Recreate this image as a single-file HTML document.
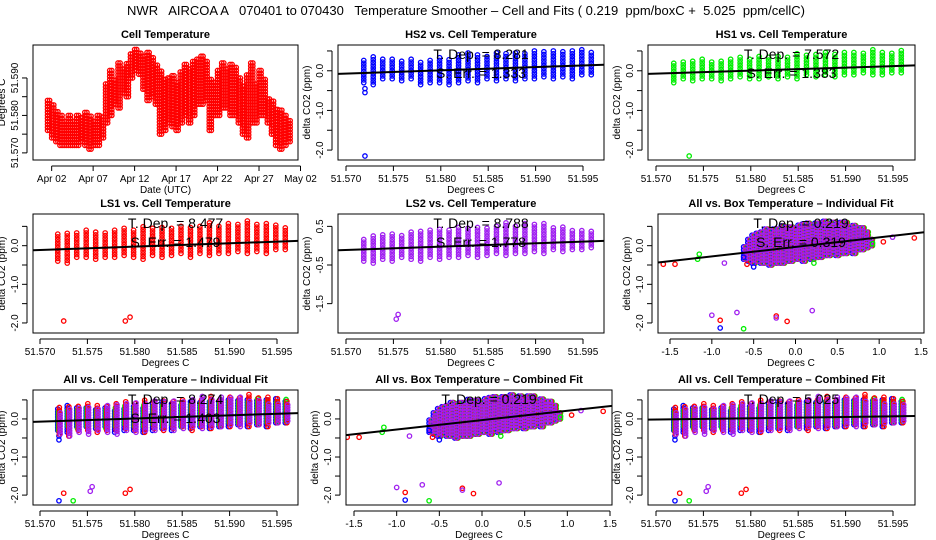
<!DOCTYPE html>
<html><head><meta charset="utf-8"><style>
html,body{margin:0;padding:0;background:#fff;}
svg{display:block;font-family:"Liberation Sans",sans-serif;}
</style></head><body>
<svg id="c" width="936" height="540" viewBox="0 0 936 540">
<text x="466" y="15" text-anchor="middle" font-size="13" xml:space="preserve">NWR   AIRCOA A   070401 to 070430   Temperature Smoother – Cell and Fits ( 0.219  ppm/boxC +  5.025  ppm/cellC)</text>
</svg>
<script>
// ---- data ----
const cellDays = [0.5,1,1.5,2,2.5,3,3.5,4,4.5,5,5.5,6,6.5,7,7.5,8,8.5,9,9.5,10,10.5,11,11.5,12,12.5,13,13.5,14,14.5,15,15.5,16,16.5,17,17.5,18,18.5,19,19.5,20,20.5,21,21.5,22,22.5,23,23.5,24,24.5,25,25.5,26,26.5,27,27.5,28,28.5,29,29.5];
const cellLo = [51.576,51.574,51.573,51.572,51.572,51.572,51.572,51.572,51.573,51.572,51.571,51.572,51.572,51.574,51.578,51.580,51.583,51.582,51.586,51.585,51.590,51.592,51.591,51.587,51.584,51.585,51.583,51.575,51.576,51.578,51.577,51.576,51.578,51.580,51.578,51.580,51.583,51.583,51.584,51.576,51.580,51.580,51.582,51.582,51.580,51.580,51.578,51.575,51.574,51.578,51.578,51.580,51.580,51.578,51.575,51.572,51.571,51.572,51.573];
const cellHi = [51.584,51.583,51.581,51.580,51.579,51.580,51.579,51.580,51.580,51.581,51.580,51.579,51.580,51.580,51.589,51.592,51.590,51.594,51.593,51.594,51.597,51.598,51.597,51.596,51.597,51.596,51.594,51.592,51.590,51.590,51.591,51.589,51.592,51.594,51.593,51.595,51.595,51.596,51.595,51.590,51.589,51.592,51.594,51.593,51.594,51.593,51.590,51.588,51.591,51.594,51.589,51.592,51.590,51.585,51.584,51.582,51.582,51.580,51.579];
const xTickDays = [1,6,11,16,21,26,31];
const xTickLabels = ["Apr 02","Apr 07","Apr 12","Apr 17","Apr 22","Apr 27","May 02"];

const tempBins = [51.572,51.573,51.574,51.575,51.576,51.577,51.578,51.579,51.580,51.581,51.582,51.583,51.584,51.585,51.586,51.587,51.588,51.589,51.590,51.591,51.592,51.593,51.594,51.595,51.596];
const hs2Hi = [0.3,0.4,0.35,0.3,0.3,0.3,0.25,0.3,0.35,0.3,0.4,0.45,0.4,0.4,0.45,0.45,0.5,0.45,0.5,0.5,0.55,0.5,0.5,0.55,0.5];
const hs2Lo = [-0.3,-0.35,-0.2,-0.2,-0.25,-0.2,-0.35,-0.3,-0.3,-0.35,-0.3,-0.25,-0.3,-0.2,-0.25,-0.2,-0.25,-0.2,-0.2,-0.15,-0.2,-0.15,-0.2,-0.1,-0.1];
const hs1Hi = [0.2,0.25,0.3,0.3,0.25,0.3,0.3,0.35,0.3,0.4,0.35,0.4,0.4,0.45,0.4,0.45,0.5,0.45,0.5,0.5,0.5,0.55,0.5,0.5,0.55];
const hs1Lo = [-0.3,-0.2,-0.25,-0.2,-0.2,-0.25,-0.2,-0.15,-0.2,-0.2,-0.15,-0.2,-0.15,-0.2,-0.1,-0.15,-0.1,-0.15,-0.1,-0.1,-0.05,-0.1,-0.1,-0.05,-0.05];
const ls1Hi = [0.3,0.35,0.35,0.4,0.4,0.35,0.4,0.45,0.4,0.5,0.45,0.5,0.5,0.55,0.5,0.55,0.6,0.55,0.6,0.6,0.65,0.6,0.6,0.55,0.5];
const ls1Lo = [-0.4,-0.45,-0.3,-0.3,-0.35,-0.3,-0.3,-0.25,-0.3,-0.35,-0.25,-0.3,-0.25,-0.2,-0.3,-0.2,-0.25,-0.2,-0.2,-0.15,-0.2,-0.15,-0.2,-0.1,-0.1];
const ls2Hi = [0.2,0.3,0.3,0.35,0.3,0.35,0.4,0.4,0.45,0.4,0.5,0.45,0.5,0.5,0.55,0.6,0.55,0.6,0.55,0.6,0.5,0.5,0.45,0.45,0.4];
const ls2Lo = [-0.4,-0.45,-0.35,-0.4,-0.3,-0.35,-0.4,-0.3,-0.35,-0.3,-0.3,-0.25,-0.3,-0.25,-0.2,-0.25,-0.2,-0.2,-0.15,-0.2,-0.1,-0.15,-0.1,-0.1,-0.05];
const hs2Out = [[51.572,-2.15],[51.572,-0.55],[51.572,-0.45]];
const hs1Out = [[51.5735,-2.15]];
const ls1Out = [[51.5725,-1.95],[51.579,-1.95],[51.5795,-1.85]];
const ls2Out = [[51.5753,-1.9],[51.5755,-1.78]];

const boxBins = [-0.6,-0.55,-0.5,-0.45,-0.4,-0.35,-0.3,-0.25,-0.2,-0.15,-0.1,-0.05,0,0.05,0.1,0.15,0.2,0.25,0.3,0.35,0.4,0.45,0.5,0.55,0.6,0.65,0.7,0.75,0.8,0.85,0.9];
const boxLo = [-0.35,-0.4,-0.45,-0.4,-0.45,-0.45,-0.5,-0.45,-0.45,-0.45,-0.4,-0.4,-0.35,-0.35,-0.4,-0.3,-0.35,-0.3,-0.3,-0.25,-0.25,-0.2,-0.25,-0.2,-0.2,-0.15,-0.2,-0.1,-0.1,-0.05,0];
const boxHi = [0.0,0.2,0.3,0.35,0.4,0.45,0.45,0.5,0.5,0.55,0.5,0.55,0.5,0.55,0.6,0.6,0.55,0.6,0.6,0.65,0.6,0.65,0.6,0.65,0.6,0.55,0.55,0.5,0.5,0.4,0.2];
const boxOutRed = [[-1.58,-0.48],[-1.44,-0.48],[1.42,0.2],[1.05,0.1],[-0.9,-1.93],[-0.23,-1.82],[-0.1,-1.96],[-0.58,-0.48]];
const boxOutGreen = [[-1.17,-0.35],[-1.15,-0.22],[-0.62,-2.15],[0.92,0.05],[0.22,-0.45]];
const boxOutBlue = [[-0.9,-2.13],[-0.5,-0.55],[-0.62,-0.3]];
const boxOutPurple = [[-1.0,-1.8],[-0.7,-1.73],[0.2,-1.68],[-0.85,-0.45],[1.16,0.22],[-0.23,-1.87]];

const RED="#ff0000",GREEN="#00ee00",BLUE="#0000ff",PURPLE="#a020f0";
const NS="http://www.w3.org/2000/svg";
const svg=document.getElementById('c');
function mk(tag,attrs,parent){const e=document.createElementNS(NS,tag);for(const k in attrs)e.setAttribute(k,attrs[k]);(parent||svg).appendChild(e);return e;}
function txt(s,attrs,parent){const e=mk('text',attrs,parent);e.textContent=s;return e;}

function panel(p){
  const g=mk('g',{});
  
  
  const sx=v=>p.x0+(v-p.xd[0])/(p.xd[1]-p.xd[0])*(p.x1-p.x0);
  const sy=v=>p.y1-(v-p.yd[0])/(p.yd[1]-p.yd[0])*(p.y1-p.y0);
  const clip='clip-'+p.name;
  const cp=mk('clipPath',{id:clip},g);mk('rect',{x:p.x0,y:p.y0,width:p.x1-p.x0,height:p.y1-p.y0},cp);
  const pg=mk('g',{'clip-path':'url(#'+clip+')'},g);
  
  
  p.draw(pg,sx,sy);
  const fr=mk('rect',{x:p.x0,y:p.y0,width:p.x1-p.x0,height:p.y1-p.y0,fill:'none',stroke:'#000','stroke-width':1},g);
  
  
  const t=txt(p.title,{x:(p.x0+p.x1)/2,y:p.y0-7,'text-anchor':'middle','font-size':11,'font-weight':'bold'},g);
  
  
  const xa=mk('g',{},g);
  
  
  const xt=p.xticks.map(sx);
  mk('line',{x1:xt[0],x2:xt[xt.length-1],y1:p.y1+6,y2:p.y1+6,stroke:'#000'},xa);
  p.xticks.forEach((v,i)=>{const X=sx(v);mk('line',{x1:X,x2:X,y1:p.y1+6,y2:p.y1+11,stroke:'#000'},xa);
    txt(p.xlabels[i],{x:X,y:p.y1+22,'text-anchor':'middle','font-size':10},xa);});
  const xl=txt(p.xlab,{x:(p.x0+p.x1)/2,y:p.y1+33,'text-anchor':'middle','font-size':10},g);
  
  
  const ya=mk('g',{},g);
  
  
  const yt=p.yticks.map(sy);
  mk('line',{x1:p.x0-6,x2:p.x0-6,y1:yt[0],y2:yt[yt.length-1],stroke:'#000'},ya);
  p.yticks.forEach((v,i)=>{const Y=sy(v);mk('line',{x1:p.x0-11,x2:p.x0-6,y1:Y,y2:Y,stroke:'#000'},ya);
    if(p.ylabels[i]!=='')txt(p.ylabels[i],{x:p.x0-15,y:Y,'text-anchor':'middle','font-size':10,transform:`rotate(-90 ${p.x0-15} ${Y})`},ya);});
  const yy=(p.y0+p.y1)/2, yx=p.x0-28;
  const yl=txt(p.ylab,{x:yx,y:yy,'text-anchor':'middle','font-size':10,transform:`rotate(-90 ${yx} ${yy})`},g);
  
  
  if(p.fit){
    const fl=mk('line',{x1:sx(p.fit[0][0]),y1:sy(p.fit[0][1]),x2:sx(p.fit[1][0]),y2:sy(p.fit[1][1]),stroke:'#000','stroke-width':2},pg);
    
    
  }
  if(p.ann){
    const cx=(p.x0+p.x1)/2+10;
    const a1=txt(p.ann[0],{x:cx,y:p.y0+14,'text-anchor':'middle','font-size':14},g);
    
    
    if(p.ann[1]){const a2=txt(p.ann[1],{x:cx,y:p.y0+33,'text-anchor':'middle','font-size':14},g);
    
    }
  }
}
function pt(g,X,Y,col){mk('circle',{cx:X,cy:Y,r:2.2,fill:'none',stroke:col,'stroke-width':1.3},g);}
function cols(g,sx,sy,xs,lo,hi,col,step,dx){xs.forEach((x,i)=>{for(let v=lo[i];v<=hi[i]+1e-9;v+=step)pt(g,sx(x)+(dx||0),sy(v),col);});}
function outs(g,sx,sy,arr,col){arr.forEach(o=>pt(g,sx(o[0]),sy(o[1]),col));}

const tT=[51.570,51.575,51.580,51.585,51.590,51.595];
const tL=["51.570","51.575","51.580","51.585","51.590","51.595"];
const dT=[-2,-1.5,-1,-0.5,0,0.5];
const dL=["-2.0","","-1.0","","0.0",""];
const bT=[-1.5,-1.0,-0.5,0,0.5,1.0,1.5];
const bL=["-1.5","-1.0","-0.5","0.0","0.5","1.0","1.5"];
const rows=[{y0:45,y1:160,yd:[-2.25,0.65]},{y0:214,y1:333,yd:[-2.26,0.82]},{y0:390,y1:505,yd:[-2.26,0.76]}];
const C1=[33,298],C2=[338,604],C3=[648,915];
const tdom=(c)=>{const s=(c[1]-c[0]);return [51.570-(c[0]===33?7:8)/9.48*0.001, 51.570+(s-(c[0]===33?7:8))/9.48*0.001];};

panel({name:'cell-temperature',title:'Cell Temperature',x0:33,x1:298,y0:45,y1:160,xd:[-1.25,30.7],yd:[51.5681,51.5988],
  xticks:xTickDays,xlabels:xTickLabels,yticks:[51.570,51.575,51.580,51.585,51.590],ylabels:["51.570","","51.580","","51.590"],
  xlab:'Date (UTC)',ylab:'Degrees C',
  draw:(g,sx,sy)=>{cols(g,sx,sy,cellDays,cellLo,cellHi,RED,0.0008,0);cols(g,sx,sy,cellDays,cellLo,cellHi,RED,0.0008,2.1);}});

function cellPanel(name,title,c,r,series,fit,ann,yt,yl){
  panel({name,title,x0:c[0],x1:c[1],y0:r.y0,y1:r.y1,xd:tdom(c),yd:r.yd,xticks:tT,xlabels:tL,yticks:yt||dT,ylabels:yl||dL,
   xlab:'Degrees C',ylab:'delta CO2 (ppm)',fit,ann,
   draw:(g,sx,sy)=>{series.forEach((s,k)=>{cols(g,sx,sy,tempBins,s.lo,s.hi,s.col,0.07,(k-1.5)*0.8);outs(g,sx,sy,s.out,s.col);});}});
}
const sHS2={lo:hs2Lo,hi:hs2Hi,col:BLUE,out:hs2Out},sHS1={lo:hs1Lo,hi:hs1Hi,col:GREEN,out:hs1Out},
 sLS1={lo:ls1Lo,hi:ls1Hi,col:RED,out:ls1Out},sLS2={lo:ls2Lo,hi:ls2Hi,col:PURPLE,out:ls2Out};
cellPanel('hs2-vs-cell','HS2 vs. Cell Temperature',C2,rows[0],[sHS2],[[51.569,-0.08],[51.598,0.16]],['T. Dep. = 8.281','S. Err. = 1.333']);
cellPanel('hs1-vs-cell','HS1 vs. Cell Temperature',C3,rows[0],[sHS1],[[51.569,-0.08],[51.598,0.14]],['T. Dep. = 7.572','S. Err. = 1.383']);
cellPanel('ls1-vs-cell','LS1 vs. Cell Temperature',C1,rows[1],[sLS1],[[51.569,-0.12],[51.598,0.13]],['T. Dep. = 8.477','S. Err. = 1.479']);
cellPanel('ls2-vs-cell','LS2 vs. Cell Temperature',C2,rows[1],[sLS2],[[51.569,-0.12],[51.598,0.13]],['T. Dep. = 8.788','S. Err. = 1.778'],[-1.5,-0.5,0.5],["-1.5","-0.5","0.5"]);
cellPanel('all-vs-cell-individual','All vs. Cell Temperature – Individual Fit',C1,rows[2],[sHS2,sHS1,sLS1,sLS2],[[51.569,-0.08],[51.598,0.16]],['T. Dep. = 8.274','S. Err. = 1.403']);
cellPanel('all-vs-cell-combined','All vs. Cell Temperature – Combined Fit',C3,rows[2],[sHS2,sHS1,sLS1,sLS2],[[51.569,-0.02],[51.598,0.08]],['T. Dep. = 5.025']);

function boxPanel(name,title,x0,x1,r,xd,ann){
  panel({name,title,x0,x1,y0:r.y0,y1:r.y1,xd,yd:r.yd,xticks:bT,xlabels:bL,yticks:dT,ylabels:dL,
   xlab:'Degrees C',ylab:'delta CO2 (ppm)',fit:[[-1.7,-0.45],[1.55,0.35]],ann,
   draw:(g,sx,sy)=>{
     [[BLUE,-0.02],[GREEN,0.02],[RED,0.01],[PURPLE,0]].forEach(([col,dx])=>{
       cols(g,sx,sy,boxBins.map(b=>b+dx),boxLo,boxHi,col,0.08);});
     outs(g,sx,sy,boxOutRed,RED);outs(g,sx,sy,boxOutGreen,GREEN);outs(g,sx,sy,boxOutBlue,BLUE);outs(g,sx,sy,boxOutPurple,PURPLE);
   }});
}
boxPanel('all-vs-box-individual','All vs. Box Temperature – Individual Fit',658,924,rows[1],[-1.5-(670-658)/83.7,1.5+(924-921)/83.7],['T. Dep. = 0.219','S. Err. = 0.319']);
boxPanel('all-vs-box-combined','All vs. Box Temperature – Combined Fit',346,612,rows[2],[-1.5-(354-346)/85.3,1.5+(612-610)/85.3],['T. Dep. = 0.219']);
</script>
</body></html>
